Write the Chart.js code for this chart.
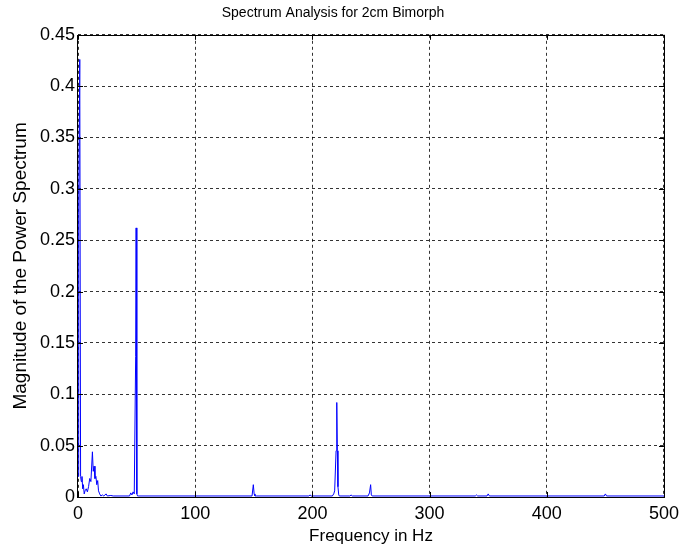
<!DOCTYPE html>
<html>
<head>
<meta charset="utf-8">
<title>Spectrum Analysis</title>
<script src="https://cdn.jsdelivr.net/npm/chart.js@4.4.1/dist/chart.umd.min.js"></script>
<style>
  html, body { margin: 0; padding: 0; background: #fff; }
  canvas { display: block; }
</style>
</head>
<body>
<canvas id="spectrumChart" width="685" height="553"></canvas>
<script>
// Спектр мощности биморфа 2 см

// частоты (Гц) и амплитуды спектра
const freqs = [
  0, 0.6, 1.5, 2.2, 2.8, 3.4, 4, 4.6, 5.3, 6, 7, 8, 9, 10, 11, 12.3, 13, 13.7, 14.5, 15.3, 16, 16.8, 17.5, 18.5, 19.5,
  21, 22, 24, 25, 28, 30, 44, 45, 46, 47, 48, 49.2, 49.6, 50.2, 50.8, 52,
  148.5, 149.6, 150.3, 151, 152, 197, 198, 199,
  217, 218.2, 219, 220.2, 220.8, 221.3, 221.8, 222.5, 223, 232, 233, 234,
  247.5, 248.7, 249.7, 250.3, 251, 339, 340, 341, 349, 350, 351, 449, 450, 451, 500
];
const mags = [
  0.02, 0.275, 0.426, 0.02, 0.015, 0.02, 0.008, 0.012, 0.003, 0.006, 0.008, 0.005, 0.01, 0.018, 0.015, 0.044, 0.025, 0.03, 0.018, 0.02, 0.012, 0.016, 0.006, 0.003, 0.001,
  0.002, 0.001, 0.003, 0.001, 0.0015, 0.001, 0.001, 0.004, 0.002, 0.005, 0.003, 0.137, 0.262, 0.003, 0.001, 0.001,
  0.001, 0.012, 0.003, 0.001, 0.001, 0.001, 0.002, 0.001,
  0.001, 0.003, 0.006, 0.045, 0.092, 0.045, 0.01, 0.002, 0.001, 0.001, 0.002, 0.001,
  0.001, 0.004, 0.012, 0.002, 0.001, 0.001, 0.002, 0.001, 0.001, 0.003, 0.001, 0.001, 0.003, 0.001, 0.001
];

// подписи осей
const xTicks = [0, 100, 200, 300, 400, 500];
const yTicks = [0, 0.05, 0.1, 0.15, 0.2, 0.25, 0.3, 0.35, 0.4, 0.45];
const yTickLabels = ['0', '0.05', '0.1', '0.15', '0.2', '0.25', '0.3', '0.35', '0.4', '0.45'];

Chart.defaults.font.family = "'Liberation Sans', Arial, sans-serif";
Chart.defaults.color = '#000';

// рамка вокруг области графика и внутренние засечки, как в MATLAB
const boxPlugin = {
  id: 'box',
  afterDatasetsDraw(chart) {
    const { ctx, chartArea: a, scales } = chart;
    const tick = 5;
    ctx.save();
    ctx.strokeStyle = '#000';
    ctx.lineWidth = 1;
    ctx.beginPath();
    scales.x.ticks.forEach(t => {
      const px = Math.round(scales.x.getPixelForValue(t.value)) + 0.5;
      ctx.moveTo(px, a.bottom); ctx.lineTo(px, a.bottom - tick);
      ctx.moveTo(px, a.top); ctx.lineTo(px, a.top + tick);
    });
    scales.y.ticks.forEach(t => {
      const py = Math.round(scales.y.getPixelForValue(t.value)) + 0.5;
      ctx.moveTo(a.left, py); ctx.lineTo(a.left + tick, py);
      ctx.moveTo(a.right, py); ctx.lineTo(a.right - tick, py);
    });
    ctx.stroke();
    ctx.strokeRect(Math.round(a.left) - 0.5, Math.round(a.top) + 0.5,
      Math.round(a.right - a.left) + 1, Math.round(a.bottom - a.top));
    ctx.restore();
  }
};

const points = freqs.map((f, i) => ({ x: f, y: mags[i] }));

new Chart(document.getElementById('spectrumChart'), {
  type: 'line',
  data: {
    datasets: [{
      data: points,
      borderColor: '#0000ff',
      borderWidth: 1,
      pointRadius: 0,
      tension: 0,
      fill: false
    }]
  },
  options: {
    responsive: false,
    animation: false,
    layout: { padding: { right: 19 } },
    plugins: {
      legend: { display: false },
      tooltip: { enabled: false },
      title: {
        display: true,
        text: 'Spectrum Analysis for 2cm Bimorph',
        font: { size: 14, weight: 'normal' },
        padding: { top: 5, bottom: 13 }
      }
    },
    scales: {
      x: {
        type: 'linear',
        min: 0,
        max: 500,
        afterFit(scale) { scale.height = 56; },
        afterBuildTicks(scale) { scale.ticks = xTicks.map(v => ({ value: v })); },
        ticks: { font: { size: 18 }, padding: 6, maxRotation: 0, color: '#000' },
        grid: { color: 'rgba(0,0,0,0.8)', drawTicks: false },
        border: { display: false, dash: [3, 3] },
        title: {
          display: true,
          text: 'Frequency in Hz',
          font: { size: 17 },
          padding: { top: 0, bottom: 6 }
        }
      },
      y: {
        type: 'linear',
        min: 0,
        max: 0.45,
        afterFit(scale) { scale.width = 78; },
        afterBuildTicks(scale) { scale.ticks = yTicks.map(v => ({ value: v })); },
        ticks: {
          font: { size: 18 },
          padding: 3,
          color: '#000',
          callback: (v, i) => yTickLabels[i]
        },
        grid: { color: 'rgba(0,0,0,0.8)', drawTicks: false },
        border: { display: false, dash: [3, 3] },
        title: {
          display: true,
          text: 'Magnitude of the Power Spectrum',
          font: { size: 19 },
          padding: { top: 9, bottom: 0 }
        }
      }
    }
  },
  plugins: [boxPlugin]
});
</script>
</body>
</html>
